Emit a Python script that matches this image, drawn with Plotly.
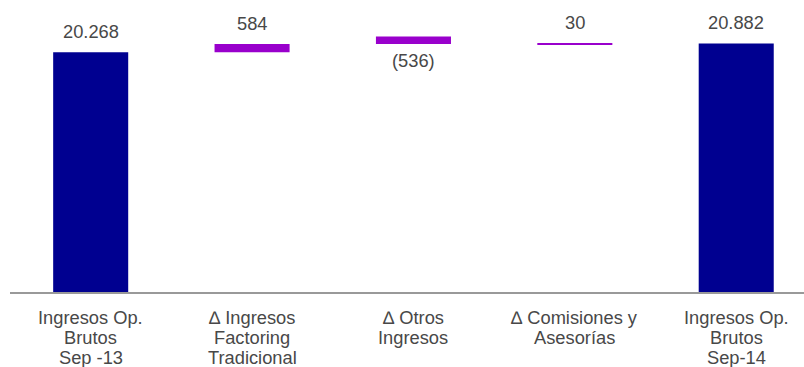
import plotly.graph_objects as go

# ---- data ----
categories = [
    "Ingresos Op. Brutos Sep -13",
    "Δ Ingresos Factoring Tradicional",
    "Δ Otros Ingresos",
    "Δ Comisiones y Asesorías",
    "Ingresos Op. Brutos Sep-14",
]
values = [20268, 584, -536, 30, 20882]
kinds = ["total", "delta", "delta", "delta", "total"]
tick_lines = [
    ["Ingresos Op.", "Brutos", "Sep -13"],
    ["\u2206 Ingresos", "Factoring", "Tradicional"],
    ["\u2206 Otros", "Ingresos"],
    ["\u2206 Comisiones y", "Asesorías"],
    ["Ingresos Op.", "Brutos", "Sep-14"],
]

NAVY = "#000090"
PURPLE = "#9900CC"
TEXT = "#484848"
FONT = "Liberation Sans, Arial, sans-serif"


def fmt(v):
    s = f"{abs(v):,}".replace(",", ".")
    return f"({s})" if v < 0 else s


# bar spans as drawn in the reference
bases, heights, colors = [], [], []
running = 0
for v, k in zip(values, kinds):
    if k == "total":
        bases.append(0)
        heights.append(v)
        colors.append(NAVY)
        running = v
    else:
        bases.append(running)
        heights.append(abs(v))
        colors.append(PURPLE)
        if v > 0:
            running += v

fig = go.Figure(
    go.Bar(
        x=categories,
        y=heights,
        base=bases,
        marker=dict(color=colors, line=dict(width=0)),
        width=0.465,
        hoverinfo="skip",
    )
)

annotations = []
for i, (c, v, b, h) in enumerate(zip(categories, values, bases, heights)):
    if v >= 0:
        annotations.append(dict(x=c, y=b + h, xref="x", yref="y", text=fmt(v),
                                showarrow=False, yanchor="middle", yshift=21,
                                font=dict(size=18.3, color=TEXT, family=FONT)))
    else:
        annotations.append(dict(x=c, y=b, xref="x", yref="y", text=fmt(v),
                                showarrow=False, yanchor="middle", yshift=-16.5,
                                font=dict(size=18.3, color=TEXT, family=FONT)))
    for j, line in enumerate(tick_lines[i]):
        annotations.append(dict(x=c, y=0, xref="x", yref="paper", text=line,
                                showarrow=False, yanchor="middle", yshift=-(25 + 20 * j),
                                font=dict(size=18.3, color=TEXT, family=FONT)))

fig.update_layout(
    width=804,
    height=367,
    margin=dict(l=10, r=0, t=0, b=75),
    paper_bgcolor="white",
    plot_bgcolor="white",
    showlegend=False,
    annotations=annotations,
    xaxis=dict(
        type="category",
        range=[-0.5, 4.42],
        showticklabels=False,
        showgrid=False,
        zeroline=False,
        showline=True,
        linecolor="#999999",
        linewidth=2,
        ticks="",
    ),
    yaxis=dict(
        range=[3400, 23950],
        visible=False,
        showgrid=False,
        zeroline=False,
    ),
)

fig.write_html("out.html")
